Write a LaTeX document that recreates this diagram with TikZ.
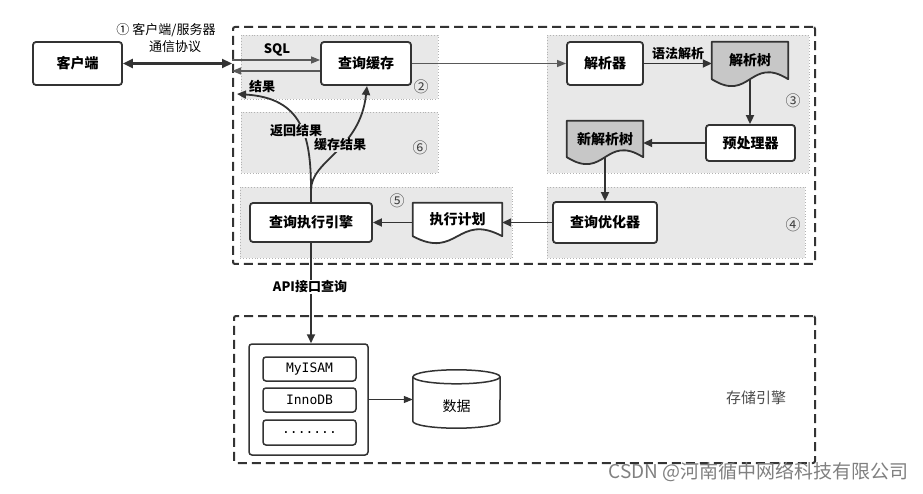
\documentclass[tikz,border=0pt]{standalone}
\usepackage{fontspec}
\setmainfont{Noto Sans CJK SC}
\newfontfamily\monofont{DejaVu Sans Mono}
\usetikzlibrary{arrows.meta,calc}
\pgfdeclarelayer{bg}
\pgfdeclarelayer{mid}
\pgfsetlayers{bg,mid,main}
\newcommand\docpath[2]{%
  \begin{pgfonlayer}{mid}
  \draw[line width=1.8pt, draw=black!80, fill=#2, line join=round]
    (#1.north west) -- (#1.north east) -- (#1.south east)
    .. controls ($(#1.south)+(0,-24)$) and ($(#1.south)+(0,24)$) .. (#1.south west) -- cycle;
  \end{pgfonlayer}}
\begin{document}
\begin{tikzpicture}[x=1pt,y=-1pt,
  font=\fontsize{13}{15}\selectfont\bfseries,
  box/.style={draw=black!80, line width=1.8pt, rounded corners=3pt, fill=white, inner sep=0pt, align=center, font=\fontsize{14}{16}\selectfont\bfseries},
  grp/.style={draw=black!30, dotted, line width=0.9pt, fill=black!9, inner sep=0pt},
  dashbox/.style={draw=black!80, line width=2pt, dash pattern=on 9pt off 5pt, inner sep=0pt, rounded corners=2pt},
  doc/.style={inner sep=0pt, font=\fontsize{14}{16}\selectfont\bfseries},
  arr/.style={line width=1.8pt, draw=black!80, -{Triangle[length=9pt,width=8pt]}},
  tarr/.style={line width=1.2pt, draw=black!65, -{Triangle[length=9pt,width=7pt]}},
  lbl/.style={inner sep=1pt},
  num/.style={font=\fontsize{15}{16}\selectfont\mdseries, text=black!75},
  mono/.style={box, line width=1.5pt, font=\monofont\fontsize{13}{15}\selectfont},
]
\useasboundingbox (0,0) rectangle (923,494);

% dashed containers
\node[dashbox, minimum width=582pt, minimum height=237pt] (srv) at (524,145.5) {};
\node[dashbox, minimum width=581pt, minimum height=147pt] (eng) at (524.5,389.5) {};

% groups
\begin{pgfonlayer}{bg}
\node[grp, minimum width=197pt, minimum height=64pt] (g2) at (339.5,67) {};
\node[grp, minimum width=197pt, minimum height=61pt] (g6) at (339.5,142.5) {};
\node[grp, minimum width=272pt, minimum height=71pt] (g5) at (376,222.5) {};
\node[grp, minimum width=262pt, minimum height=138pt] (g3) at (678,104) {};
\node[grp, minimum width=258pt, minimum height=71pt] (g4) at (676,222.5) {};
\end{pgfonlayer}

% nodes
\node[box, minimum width=89pt, minimum height=43pt] (client) at (77.5,63.5) {客户端};
\node[box, minimum width=90pt, minimum height=43pt] (cache) at (366,63.5) {查询缓存};
\node[box, minimum width=76pt, minimum height=43pt] (parser) at (605,63.5) {解析器};
\node[doc, minimum width=76pt, minimum height=37pt] (tree) at (750,60.5) {解析树};
\docpath{tree}{black!22}
\node[box, minimum width=89pt, minimum height=36pt] (pre) at (750.5,143) {预处理器};
\node[doc, minimum width=76pt, minimum height=36pt] (ntree) at (605,139) {新解析树};
\docpath{ntree}{black!22}
\node[box, minimum width=104pt, minimum height=41pt] (opt) at (605,222.5) {查询优化器};
\node[doc, minimum width=89pt, minimum height=33pt] (plan) at (457.5,219.5) {执行计划};
\docpath{plan}{white}
\node[box, minimum width=122pt, minimum height=39pt] (exec) at (311,222.5) {查询执行引擎};

\node[box, line width=1.5pt, minimum width=119pt, minimum height=111pt] (cont) at (308.5,399.5) {};
\node[mono, minimum width=93pt, minimum height=24pt] (my) at (309.5,369) {MyISAM};
\node[mono, minimum width=93pt, minimum height=24pt] (inno) at (309.5,400) {InnoDB};
\node[mono, minimum width=93pt, minimum height=25pt] (dots) at (309.5,432.5) {.......};

\node[inner sep=0pt, minimum width=87pt, minimum height=58pt] (db) at (456.5,399) {};
\draw[line width=1.5pt, draw=black!80, fill=white]
  ($(db.north west)+(0,7)$) -- ($(db.south west)+(0,-7)$)
  arc[start angle=180, end angle=360, x radius=43.5pt, y radius=7pt]
  -- ($(db.north east)+(0,7)$);
\draw[line width=1.5pt, draw=black!80, fill=white] ($(db.north)+(0,7)$) ellipse[x radius=43.5pt, y radius=7pt];
\node[font=\fontsize{14}{16}\selectfont] (dbt) at (456.5,406) {数据};

% labels
\node[lbl, font=\fontsize{13}{15}\selectfont\mdseries] (proto1) at (166,30) {① 客户端/服务器};
\node[lbl, font=\fontsize{13}{15}\selectfont\mdseries] (proto2) at (175,47) {通信协议};
\node[lbl] (sql) at (277,50) {SQL};
\node[lbl] (res) at (262,87) {结果};
\node[lbl] (gram) at (678,54) {语法解析};
\node[num] (n2) at (421,87) {②};
\node[num] (n3) at (793,101) {③};
\node[num] (n4) at (793,225) {④};
\node[num] (n5) at (397,201) {⑤};
\node[num] (n6) at (420,148) {⑥};
\node[text=black!70, font=\fontsize{15}{16}\selectfont\mdseries] (store) at (756,398) {存储引擎};
\node[text=black!50, font=\fontsize{19}{21}\selectfont\mdseries, anchor=east, inner sep=0pt] (wm) at (909,472) {CSDN @河南循中网络科技有限公司};

% coordinates
\coordinate (ysql) at (0,60);
\coordinate (yret) at (0,71);
\coordinate (fork) at (311,190);
\coordinate (retend) at (237,94);
\coordinate (cacheend) at (367,86);

% connectors
\draw[line width=2.2pt, draw=black!80, {Triangle[length=10pt,width=9pt]}-{Triangle[length=10pt,width=9pt]}]
  (client.east) -- (client.east -| srv.west);
\draw[tarr] (srv.west |- ysql) -- (cache.west |- ysql);
\draw[tarr] (cache.west |- yret) -- (srv.west |- yret);
\draw[tarr] (cache.east) -- (parser.west);
\draw[arr] (parser.east) -- (parser.east -| tree.west);
\draw[arr] (tree.south) -- (tree.south |- pre.north);
\draw[arr] (pre.west) -- (pre.west -| ntree.east);
\draw[arr] (ntree.south) -- (ntree.south |- opt.north);
\draw[arr] (opt.west) -- (opt.west -| plan.east);
\draw[arr] (exec.east -| plan.west) -- (exec.east);
\draw[line width=1.8pt, draw=black!80] (exec.north) -- (fork);
\draw[arr] (fork) .. controls (311,135) and (302,98) .. (retend);
\draw[arr] (fork) .. controls (311,160) and (360,150) .. (cacheend);
\node[lbl, fill=black!9] (retl) at (296,131) {返回结果};
\node[lbl, fill=black!9] (cachel) at (340,145) {缓存结果};
\draw[arr] (exec.south) -- (exec.south |- cont.north);
\node[lbl, fill=white, font=\fontsize{13}{15}\selectfont\bfseries] (api) at (310,287) {API接口查询};
\draw[tarr, draw=black!80] (cont.east) -- (cont.east -| db.west);
\end{tikzpicture}
\end{document}
